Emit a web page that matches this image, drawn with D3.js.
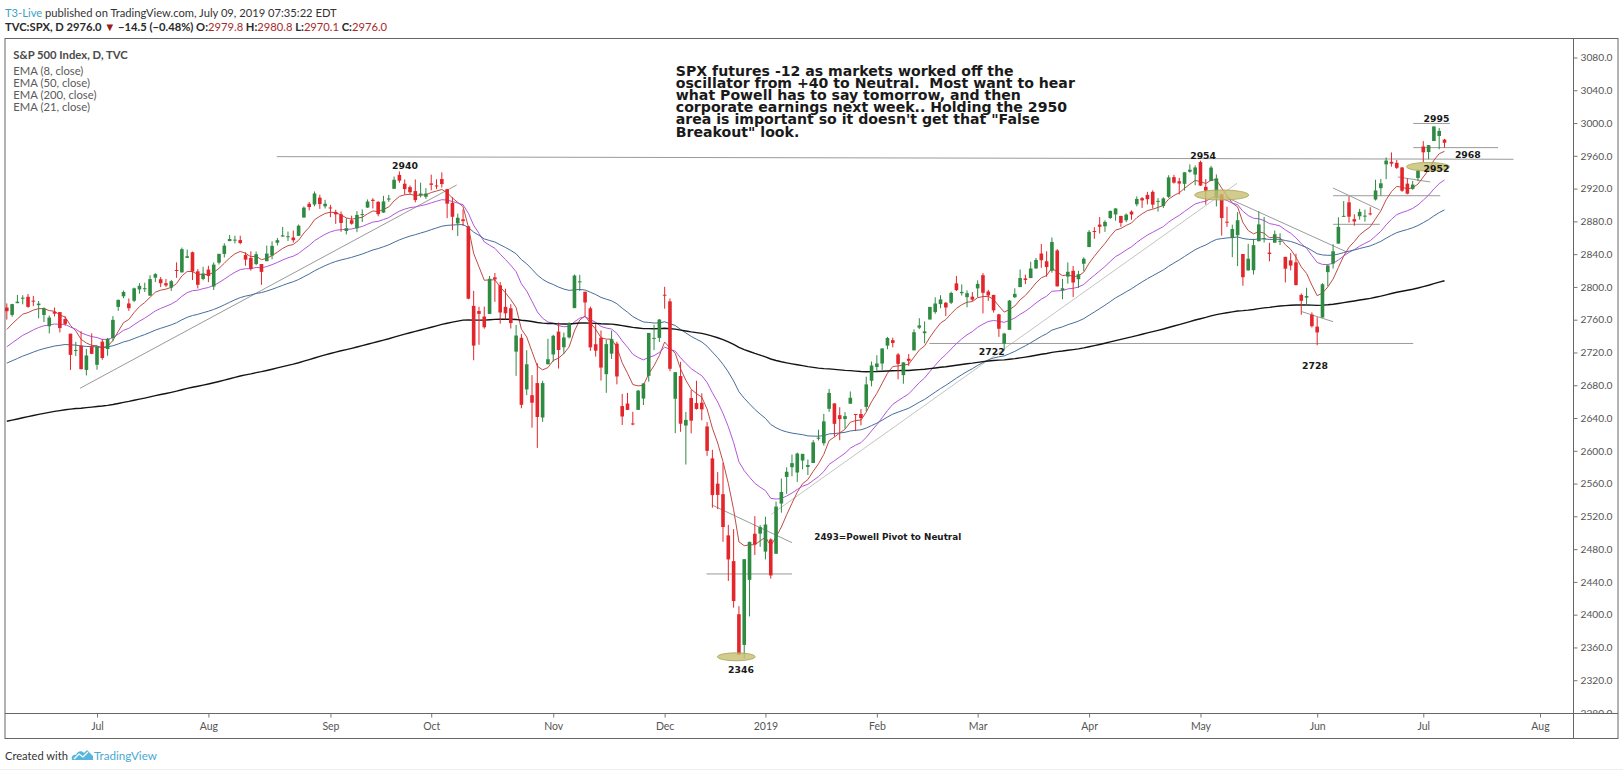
<!DOCTYPE html>
<html>
<head>
<meta charset="utf-8">
<script src="https://cdn.jsdelivr.net/npm/d3@7"></script>
<style>
  html, body { margin: 0; padding: 0; background: #fff; }
  svg { display: block; }
  text { font-family: Lato, "Noto Sans", sans-serif; white-space: pre; }
  .note { font-family: "DejaVu Sans", Verdana, sans-serif; font-weight: bold; fill: #1a1a1a; }
  .axis text { fill: #555; font-family: Lato, sans-serif; }
  .axis line { stroke: #777; }
</style>
</head>
<body>
<svg id="chart" width="1623" height="771"></svg>
<script>
// ---- daily bars, S&P 500 (TVC:SPX) ----
const dates = [
  "2018-06-07","2018-06-08","2018-06-11","2018-06-12","2018-06-13","2018-06-14","2018-06-15","2018-06-18","2018-06-19","2018-06-20","2018-06-21","2018-06-22","2018-06-25","2018-06-26","2018-06-27","2018-06-28","2018-06-29",
  "2018-07-02","2018-07-03","2018-07-05","2018-07-06","2018-07-09","2018-07-10","2018-07-11","2018-07-12","2018-07-13","2018-07-16","2018-07-17","2018-07-18","2018-07-19","2018-07-20","2018-07-23","2018-07-24","2018-07-25","2018-07-26","2018-07-27","2018-07-30","2018-07-31",
  "2018-08-01","2018-08-02","2018-08-03","2018-08-06","2018-08-07","2018-08-08","2018-08-09","2018-08-10","2018-08-13","2018-08-14","2018-08-15","2018-08-16","2018-08-17","2018-08-20","2018-08-21","2018-08-22","2018-08-23","2018-08-24","2018-08-27","2018-08-28","2018-08-29","2018-08-30","2018-08-31",
  "2018-09-04","2018-09-05","2018-09-06","2018-09-07","2018-09-10","2018-09-11","2018-09-12","2018-09-13","2018-09-14","2018-09-17","2018-09-18","2018-09-19","2018-09-20","2018-09-21","2018-09-24","2018-09-25","2018-09-26","2018-09-27","2018-09-28",
  "2018-10-01","2018-10-02","2018-10-03","2018-10-04","2018-10-05","2018-10-08","2018-10-09","2018-10-10","2018-10-11","2018-10-12","2018-10-15","2018-10-16","2018-10-17","2018-10-18","2018-10-19","2018-10-22","2018-10-23","2018-10-24","2018-10-25","2018-10-26","2018-10-29","2018-10-30","2018-10-31",
  "2018-11-01","2018-11-02","2018-11-05","2018-11-06","2018-11-07","2018-11-08","2018-11-09","2018-11-12","2018-11-13","2018-11-14","2018-11-15","2018-11-16","2018-11-19","2018-11-20","2018-11-21","2018-11-23","2018-11-26","2018-11-27","2018-11-28","2018-11-29","2018-11-30",
  "2018-12-03","2018-12-04","2018-12-06","2018-12-07","2018-12-10","2018-12-11","2018-12-12","2018-12-13","2018-12-14","2018-12-17","2018-12-18","2018-12-19","2018-12-20","2018-12-21","2018-12-24","2018-12-26","2018-12-27","2018-12-28","2018-12-31",
  "2019-01-02","2019-01-03","2019-01-04","2019-01-07","2019-01-08","2019-01-09","2019-01-10","2019-01-11","2019-01-14","2019-01-15","2019-01-16","2019-01-17","2019-01-18","2019-01-22","2019-01-23","2019-01-24","2019-01-25","2019-01-28","2019-01-29","2019-01-30","2019-01-31",
  "2019-02-01","2019-02-04","2019-02-05","2019-02-06","2019-02-07","2019-02-08","2019-02-11","2019-02-12","2019-02-13","2019-02-14","2019-02-15","2019-02-19","2019-02-20","2019-02-21","2019-02-22","2019-02-25","2019-02-26","2019-02-27","2019-02-28",
  "2019-03-01","2019-03-04","2019-03-05","2019-03-06","2019-03-07","2019-03-08","2019-03-11","2019-03-12","2019-03-13","2019-03-14","2019-03-15","2019-03-18","2019-03-19","2019-03-20","2019-03-21","2019-03-22","2019-03-25","2019-03-26","2019-03-27","2019-03-28","2019-03-29",
  "2019-04-01","2019-04-02","2019-04-03","2019-04-04","2019-04-05","2019-04-08","2019-04-09","2019-04-10","2019-04-11","2019-04-12","2019-04-15","2019-04-16","2019-04-17","2019-04-18","2019-04-22","2019-04-23","2019-04-24","2019-04-25","2019-04-26","2019-04-29","2019-04-30",
  "2019-05-01","2019-05-02","2019-05-03","2019-05-06","2019-05-07","2019-05-08","2019-05-09","2019-05-10","2019-05-13","2019-05-14","2019-05-15","2019-05-16","2019-05-17","2019-05-20","2019-05-21","2019-05-22","2019-05-23","2019-05-24","2019-05-28","2019-05-29","2019-05-30","2019-05-31",
  "2019-06-03","2019-06-04","2019-06-05","2019-06-06","2019-06-07","2019-06-10","2019-06-11","2019-06-12","2019-06-13","2019-06-14","2019-06-17","2019-06-18","2019-06-19","2019-06-20","2019-06-21","2019-06-24","2019-06-25","2019-06-26","2019-06-27","2019-06-28",
  "2019-07-01","2019-07-02","2019-07-03","2019-07-05","2019-07-08"
];

const opens = [
  2774.84,2765.84,2780.18,2785.60,2787.94,2783.21,2777.78,2765.79,2752.01,2769.73,2769.28,2760.79,2742.94,2722.12,2728.45,2698.69,2727.13,
  2704.95,2733.27,2724.19,2737.68,2775.62,2788.56,2779.82,2783.14,2796.93,2797.36,2789.34,2811.35,2809.37,2804.55,2799.17,2820.68,2817.73,2835.49,2842.35,2819.00,2809.73,
  2821.17,2800.48,2829.62,2840.29,2855.92,2856.79,2857.19,2838.90,2835.46,2827.88,2827.95,2831.44,2838.32,2853.93,2861.51,2860.99,2860.29,2862.35,2884.69,2901.45,2900.62,2908.94,2898.37,
  2896.96,2891.59,2888.64,2868.26,2881.39,2871.57,2888.29,2896.85,2906.38,2903.83,2890.74,2906.60,2919.73,2936.76,2925.94,2921.83,2916.98,2911.65,2910.03,
  2926.29,2923.80,2931.69,2919.35,2902.54,2877.53,2882.51,2873.90,2776.87,2770.54,2763.83,2767.05,2811.67,2802.00,2775.66,2773.94,2721.03,2737.87,2674.88,2667.86,2682.65,2640.68,2705.60,
  2717.58,2745.45,2726.37,2738.40,2774.13,2806.38,2794.10,2773.93,2730.05,2737.90,2693.52,2718.54,2730.74,2654.60,2657.74,2633.36,2649.97,2663.75,2691.45,2736.97,2737.76,
  2790.50,2782.43,2663.51,2691.26,2630.86,2664.44,2658.23,2658.70,2629.68,2590.75,2559.90,2547.05,2496.77,2465.38,2400.56,2363.12,2442.50,2498.77,2498.94,
  2476.96,2491.92,2474.33,2535.61,2568.11,2580.00,2573.51,2588.11,2580.31,2585.10,2614.75,2609.28,2651.27,2657.88,2643.48,2638.84,2657.44,2644.97,2644.89,2653.62,2685.49,
  2702.32,2706.49,2728.34,2735.05,2717.53,2692.36,2712.40,2722.61,2750.30,2743.50,2760.24,2769.28,2779.05,2780.67,2780.67,2804.35,2792.36,2787.50,2788.11,
  2798.22,2814.37,2794.41,2790.27,2766.53,2730.79,2747.61,2787.34,2799.78,2810.38,2810.79,2822.61,2840.76,2831.34,2819.72,2844.52,2796.01,2812.66,2819.72,2809.40,2828.27,
  2848.63,2868.24,2876.09,2873.99,2884.16,2888.46,2886.58,2881.37,2891.92,2900.86,2908.32,2912.26,2916.04,2904.81,2898.78,2909.99,2934.00,2928.99,2925.81,2940.58,2937.14,
  2952.33,2922.16,2929.21,2908.89,2913.03,2879.61,2859.84,2863.10,2840.19,2820.12,2820.38,2855.80,2858.60,2841.94,2854.02,2856.06,2836.70,2832.41,2830.03,2790.25,2786.94,2766.15,
  2751.53,2762.64,2818.09,2828.51,2852.87,2885.83,2903.27,2882.73,2886.24,2886.82,2889.75,2906.71,2920.55,2949.60,2952.71,2951.42,2945.78,2926.07,2919.66,2932.94,
  2971.41,2964.66,2978.08,2984.25,2979.77
];

const highs = [
  2779.90,2779.39,2790.21,2789.80,2791.47,2789.06,2782.81,2774.99,2765.05,2774.86,2769.28,2764.17,2742.94,2732.91,2746.09,2724.34,2743.26,
  2727.26,2736.58,2737.83,2764.41,2784.65,2795.58,2785.91,2799.22,2804.53,2805.12,2814.19,2816.76,2812.05,2809.70,2808.61,2829.99,2848.03,2845.57,2843.17,2821.74,2824.46,
  2825.83,2829.91,2840.38,2853.29,2863.43,2862.44,2862.48,2842.20,2843.40,2843.11,2827.95,2850.49,2855.63,2859.76,2873.23,2867.54,2868.78,2876.16,2898.25,2903.77,2916.50,2912.46,2906.32,
  2900.18,2894.21,2892.05,2883.81,2886.93,2892.52,2894.65,2906.76,2908.30,2904.65,2911.17,2912.36,2934.80,2940.91,2931.15,2923.79,2931.15,2927.22,2920.53,
  2937.06,2931.42,2939.86,2919.78,2909.64,2889.45,2894.83,2874.02,2795.14,2775.77,2775.99,2813.46,2816.94,2806.04,2797.77,2778.94,2753.59,2742.59,2722.70,2692.38,2706.85,2685.43,2736.69,
  2741.67,2756.55,2744.27,2756.82,2815.15,2814.75,2794.10,2775.99,2754.60,2746.80,2735.38,2746.75,2733.16,2669.44,2670.73,2647.55,2674.35,2682.53,2744.00,2753.75,2760.88,
  2800.18,2785.93,2696.15,2708.54,2647.51,2674.35,2685.44,2670.19,2635.07,2601.13,2573.99,2585.29,2509.63,2504.41,2410.34,2467.76,2489.10,2520.27,2509.24,
  2519.49,2493.14,2538.07,2566.16,2579.82,2595.32,2597.82,2596.27,2589.32,2613.08,2625.76,2645.06,2675.47,2657.88,2653.19,2647.20,2672.38,2644.97,2650.93,2690.44,2708.95,
  2716.66,2724.99,2738.98,2738.08,2719.32,2708.07,2718.05,2748.19,2761.85,2757.90,2775.66,2787.33,2789.88,2781.58,2794.20,2813.49,2803.12,2795.76,2793.73,
  2808.02,2816.88,2796.44,2790.27,2767.25,2744.13,2784.00,2798.32,2821.24,2815.00,2830.73,2835.41,2852.42,2843.54,2860.31,2846.16,2809.79,2829.87,2825.56,2819.71,2836.03,
  2869.40,2872.90,2885.25,2881.28,2893.24,2895.95,2886.88,2889.71,2893.42,2910.54,2909.60,2916.06,2918.00,2908.40,2909.51,2936.31,2936.83,2933.10,2939.88,2949.52,2948.22,
  2954.13,2931.68,2947.85,2937.32,2913.03,2897.96,2875.97,2891.31,2840.19,2852.54,2858.68,2892.15,2885.48,2853.86,2868.88,2865.47,2836.70,2841.36,2840.51,2792.03,2799.00,2768.98,
  2763.07,2804.49,2827.28,2852.10,2884.97,2904.77,2910.61,2888.57,2895.24,2894.45,2897.27,2930.79,2931.74,2958.06,2964.15,2954.92,2946.52,2932.59,2929.30,2943.98,
  2977.93,2973.21,2995.84,2994.03,2980.76
];

const lows = [
  2760.16,2763.59,2780.17,2778.78,2774.65,2776.52,2761.73,2757.12,2743.19,2763.91,2744.39,2752.68,2698.67,2715.60,2699.38,2691.99,2718.03,
  2698.95,2711.16,2716.02,2733.52,2770.73,2786.24,2770.77,2781.53,2791.69,2793.82,2789.24,2805.89,2799.77,2800.01,2795.14,2811.12,2817.73,2835.26,2808.34,2798.11,2808.06,
  2805.85,2796.34,2827.37,2835.98,2855.92,2853.09,2851.98,2825.81,2819.88,2826.58,2802.49,2831.44,2833.73,2850.62,2861.32,2856.05,2854.03,2862.35,2884.69,2893.50,2898.40,2895.22,2895.77,
  2885.13,2876.92,2867.29,2864.12,2875.94,2866.78,2879.20,2896.39,2895.77,2886.16,2890.43,2903.82,2919.73,2927.11,2912.59,2913.48,2903.28,2909.27,2907.50,
  2917.91,2919.37,2921.36,2883.92,2869.29,2862.08,2874.27,2784.86,2710.51,2729.44,2749.03,2766.91,2781.81,2755.18,2760.27,2749.22,2691.43,2651.89,2667.84,2628.16,2603.54,2635.34,2705.60,
  2708.85,2700.44,2717.94,2737.08,2774.13,2794.99,2764.24,2722.00,2714.98,2685.75,2670.75,2712.16,2681.09,2631.52,2649.82,2631.09,2649.97,2655.89,2684.38,2722.94,2732.76,
  2773.38,2697.18,2621.53,2623.14,2583.23,2621.30,2650.26,2637.27,2593.84,2530.54,2528.71,2488.96,2441.18,2408.55,2351.10,2346.58,2397.94,2472.89,2482.82,
  2467.47,2443.96,2474.33,2524.56,2547.56,2568.89,2562.02,2577.40,2570.41,2585.10,2612.68,2606.36,2647.58,2617.27,2612.86,2627.01,2657.33,2624.06,2631.05,2648.34,2678.65,
  2696.88,2698.75,2724.03,2726.27,2687.26,2681.83,2703.79,2722.61,2748.63,2731.23,2760.24,2767.29,2774.06,2764.55,2779.11,2794.99,2789.47,2775.13,2782.51,
  2787.38,2767.66,2782.97,2768.69,2739.09,2722.27,2747.61,2786.73,2799.78,2803.46,2810.79,2821.99,2823.27,2812.43,2817.38,2800.47,2785.02,2803.99,2787.72,2798.77,2819.23,
  2848.63,2858.75,2865.17,2867.14,2882.99,2880.78,2873.33,2879.13,2881.99,2898.37,2896.48,2900.71,2895.45,2891.90,2896.35,2908.53,2926.05,2912.84,2917.56,2939.35,2924.11,
  2923.36,2900.50,2929.21,2898.21,2862.60,2873.28,2836.40,2825.39,2801.43,2820.12,2815.08,2855.80,2854.23,2831.29,2854.02,2851.11,2805.49,2820.19,2801.58,2766.06,2776.74,2750.52,
  2728.81,2762.64,2800.92,2822.45,2852.87,2885.51,2878.53,2874.68,2881.99,2879.62,2887.30,2905.44,2911.43,2931.50,2946.87,2944.05,2916.01,2912.99,2918.57,2929.05,
  2952.22,2955.92,2977.96,2967.97,2970.09
];

const closes = [
  2770.37,2779.03,2782.00,2786.85,2775.63,2782.49,2779.66,2773.75,2762.59,2767.32,2749.76,2754.88,2717.07,2723.06,2699.63,2716.31,2718.37,
  2726.71,2713.22,2736.61,2759.82,2784.17,2793.84,2774.02,2798.29,2801.31,2798.43,2809.55,2815.62,2804.49,2801.83,2806.98,2820.40,2846.07,2837.44,2818.82,2802.60,2816.29,
  2813.36,2827.22,2840.35,2850.40,2858.45,2857.70,2853.58,2833.28,2821.93,2839.96,2818.37,2840.69,2850.13,2857.05,2862.96,2861.82,2856.98,2874.69,2896.74,2897.52,2914.04,2901.13,2901.52,
  2896.72,2888.60,2878.05,2871.68,2877.13,2887.89,2888.92,2904.18,2904.98,2888.80,2904.31,2907.95,2930.75,2929.67,2919.37,2915.56,2905.97,2914.00,2913.98,
  2924.59,2923.43,2925.51,2901.61,2885.57,2884.43,2880.34,2785.68,2728.37,2767.13,2750.79,2809.92,2809.21,2768.78,2767.78,2755.88,2740.69,2656.10,2705.57,2658.69,2641.25,2682.63,2711.74,
  2740.37,2723.06,2738.31,2755.45,2813.89,2806.83,2781.01,2726.22,2722.18,2701.58,2730.20,2736.27,2690.73,2641.89,2649.93,2632.56,2673.45,2682.17,2743.79,2737.80,2760.17,
  2790.37,2700.06,2695.95,2633.08,2637.72,2636.78,2651.07,2650.54,2599.95,2545.94,2546.16,2506.96,2467.42,2416.62,2351.10,2467.70,2488.83,2485.74,2506.85,
  2510.03,2447.89,2531.94,2549.69,2574.41,2584.96,2596.64,2596.26,2582.61,2610.30,2616.10,2635.96,2670.71,2632.90,2638.70,2642.33,2664.76,2643.85,2640.00,2681.05,2704.10,
  2706.53,2724.87,2737.70,2731.61,2706.05,2707.88,2709.80,2744.73,2753.03,2745.73,2775.60,2779.76,2784.70,2774.88,2792.67,2796.11,2793.90,2792.38,2784.49,
  2803.69,2792.81,2789.65,2771.45,2748.93,2743.07,2783.30,2791.52,2810.92,2808.48,2822.48,2832.94,2832.57,2824.23,2854.88,2800.71,2798.36,2818.46,2805.37,2815.44,2834.40,
  2867.19,2867.24,2873.40,2879.39,2892.74,2895.77,2878.20,2888.21,2888.32,2907.41,2905.58,2907.06,2900.45,2905.03,2907.97,2933.68,2927.25,2926.17,2939.88,2943.03,2945.83,
  2923.73,2917.52,2945.64,2932.47,2884.05,2879.42,2870.72,2881.40,2811.87,2834.41,2850.96,2876.32,2859.53,2840.23,2864.36,2856.27,2822.24,2826.06,2802.39,2783.02,2788.86,2752.06,
  2744.45,2803.27,2826.15,2843.49,2873.34,2886.73,2885.72,2879.84,2891.64,2886.98,2889.67,2917.75,2926.46,2954.18,2950.46,2945.35,2917.38,2913.78,2924.92,2941.76,
  2964.33,2973.01,2995.82,2990.41,2975.95
];

// EMA periods and their values on the first visible bar
const emaPeriods = [8, 21, 50, 200];
const emaStart = [2748, 2727, 2707, 2636];
const emaColors = ["#bf4b43", "#b256db", "#456d9b", "#141414"];
const emaWidths = [1, 1, 1, 1.4];

// axes
const priceTicks = d3.range(2280, 3081, 40);
const monthTickDates = ["2018-07-02","2018-08-01","2018-09-04","2018-10-01","2018-11-01","2018-12-03","2019-01-02",
  "2019-02-01","2019-03-01","2019-04-01","2019-05-01","2019-06-03","2019-07-01","2019-08-01"];
const monthTickLabels = ["Jul","Aug","Sep","Oct","Nov","Dec","2019","Feb","Mar","Apr","May","Jun","Jul","Aug"];

// hand-drawn annotations: [bar, price, bar, price]
const drawnLines = [
  [13.8, 2676.3, 84.8, 2924.4],
  [50.9, 2959.0, 284.0, 2955.8],
  [131.9, 2449.7, 148.0, 2449.7],
  [132.9, 2533.9, 148.0, 2487.9],
  [229.6, 2910.1, 252.6, 2842.6],
  [250.0, 2920.7, 258.8, 2893.9],
  [250.0, 2911.3, 270.2, 2911.3],
  [250.0, 2876.4, 258.8, 2876.4],
  [262.2, 2934.2, 268.3, 2928.1],
  [265.1, 2999.5, 272.0, 2999.5],
  [265.1, 2970.0, 281.1, 2970.0],
  [244.1, 2769.8, 250.0, 2757.6],
  [173.9, 2731.0, 265.1, 2731.0]
];
const faintLines = [
  [144.1, 2522.4, 231.9, 2926.5]
];
// [bar, price, rx, ry]
const markEllipses = [
  [137.5, 2348.6, 19, 4],
  [229.0, 2912.2, 27, 5],
  [267.9, 2946.7, 21.5, 4.3]
];
const levelLabels = [
  ["2940", 75.06, 2948.8],
  ["2954", 225.5, 2959.8],
  ["2995", 269.5, 3005.8],
  ["2968", 275.4, 2961.9],
  ["2952", 269.5, 2944.8],
  ["2722", 185.65, 2720.9],
  ["2728", 246.6, 2704.7],
  ["2346", 138.4, 2333.4]
];
const pivotNote = ["2493=Powell Pivot to Neutral", 152.2, 2495.2];
const noteLines = [
  "SPX futures -12 as markets worked off the",
  "oscillator from +40 to Neutral.  Most want to hear",
  "what Powell has to say tomorrow, and then",
  "corporate earnings next week.. Holding the 2950",
  "area is important so it doesn't get that \"False",
  "Breakout\" look."
];
const notePos = [126.1, 3057.8];

const legendLabels = ["S&P 500 Index, D, TVC", "EMA (8, close)", "EMA (50, close)", "EMA (200, close)", "EMA (21, close)"];

const RED = "#e3262c", GREEN = "#2f8a42";

// ---- layout ----
const svg = d3.select("#chart");
const frame = { left: 5, top: 38.5, right: 1618, bottom: 738.5 };
const plotRight = 1573, plotBottom = 713;

const x = d3.scaleLinear().domain([17, 289]).range([97, 1540]);
const y = d3.scaleLinear().domain([2280, 3080]).range([713, 57.5]);

function barIndex(s) {
  const i = dates.indexOf(s);
  if (i >= 0) return i;
  const parse = d3.utcParse("%Y-%m-%d");
  const last = parse(dates[dates.length - 1]);
  const target = parse(s);
  const extra = d3.utcDays(d3.utcDay.offset(last, 1), d3.utcDay.offset(target, 1))
    .filter(d => d.getUTCDay() % 6 !== 0).length;
  return dates.length - 1 + extra;
}

function ema(values, n, seed) {
  const k = 2 / (n + 1);
  let e = seed;
  return values.map((v, i) => (e = i === 0 ? seed : e + k * (v - e)));
}

function fit(sel, target) {
  const w = sel.node().getComputedTextLength();
  const fs = parseFloat(sel.attr("font-size"));
  sel.attr("font-size", (fs * target / w).toFixed(2));
}

const defs = svg.append("defs");
defs.append("clipPath").attr("id", "plotClip")
  .append("rect").attr("x", frame.left).attr("y", frame.top)
  .attr("width", plotRight - frame.left).attr("height", plotBottom - frame.top);
defs.append("clipPath").attr("id", "axisClip")
  .append("rect").attr("x", plotRight).attr("y", frame.top)
  .attr("width", frame.right - plotRight).attr("height", plotBottom - frame.top);

// header
const h1 = svg.append("text").attr("x", 5).attr("y", 11.7).attr("dominant-baseline", "central")
  .attr("font-size", 12);
h1.append("tspan").attr("fill", "#3d9fc6").text("T3-Live");
h1.append("tspan").attr("fill", "#333").text(" published on TradingView.com, July 09, 2019 07:35:22 EDT");
fit(h1, 332);

const h2 = svg.append("text").attr("x", 5).attr("y", 25.7).attr("dominant-baseline", "central")
  .attr("font-size", 12).attr("fill", "#2a2a2a");
const headerParts = [
  ["TVC:SPX, D 2976.0 ", "#2a2a2a"], ["\u25BC", "#9b1b1b"], [" \u221214.5 (\u22120.48%) O:", "#2a2a2a"],
  ["2979.8", "#a52a2a"], [" H:", "#2a2a2a"], ["2980.8", "#a52a2a"], [" L:", "#2a2a2a"],
  ["2970.1", "#a52a2a"], [" C:", "#2a2a2a"], ["2976.0", "#a52a2a"]
];
headerParts.forEach(([t, c]) => h2.append("tspan").attr("fill", c).attr("font-weight", c === "#2a2a2a" ? 700 : 400).text(t));
fit(h2, 382);

// frame
svg.append("rect").attr("x", frame.left).attr("y", frame.top)
  .attr("width", frame.right - frame.left).attr("height", frame.bottom - frame.top)
  .attr("fill", "none").attr("stroke", "#666").attr("stroke-width", 1);
svg.append("line").attr("x1", plotRight + 0.5).attr("x2", plotRight + 0.5)
  .attr("y1", frame.top).attr("y2", frame.bottom).attr("stroke", "#666");
svg.append("line").attr("x1", frame.left).attr("x2", frame.right)
  .attr("y1", plotBottom + 0.5).attr("y2", plotBottom + 0.5).attr("stroke", "#666");

// price axis (clipped so the lowest label is cut by the time-axis line)
const yAxis = svg.append("g").attr("clip-path", "url(#axisClip)")
  .append("g").attr("class", "axis")
  .attr("transform", `translate(${plotRight + 0.5},0)`)
  .call(d3.axisRight(y).tickValues(priceTicks).tickFormat(d3.format(".1f")).tickSize(4).tickPadding(3));
yAxis.select(".domain").remove();
yAxis.selectAll("text").attr("font-size", 10.2);

// time axis
const xAxis = svg.append("g").attr("class", "axis")
  .attr("transform", `translate(0,${plotBottom + 0.5})`)
  .call(d3.axisBottom(x).tickValues(monthTickDates.map(barIndex))
    .tickFormat((d, i) => monthTickLabels[i]).tickSize(4).tickPadding(5));
xAxis.select(".domain").remove();
xAxis.selectAll("text").attr("font-size", 10.5);

// plot
const plot = svg.append("g").attr("clip-path", "url(#plotClip)");
const bars = d3.range(dates.length);

plot.append("g").selectAll("line").data(faintLines).join("line")
  .attr("x1", d => x(d[0])).attr("y1", d => y(d[1])).attr("x2", d => x(d[2])).attr("y2", d => y(d[3]))
  .attr("stroke", "#c4c4c4").attr("stroke-width", 1);
plot.append("g").selectAll("line").data(drawnLines).join("line")
  .attr("x1", d => x(d[0])).attr("y1", d => y(d[1])).attr("x2", d => x(d[2])).attr("y2", d => y(d[3]))
  .attr("stroke", "#9a9a9a").attr("stroke-width", 1);

emaPeriods.forEach((n, k) => {
  const vals = ema(closes, n, emaStart[k]);
  plot.append("path").datum(vals)
    .attr("fill", "none").attr("stroke", emaColors[k]).attr("stroke-width", emaWidths[k])
    .attr("d", d3.line().x((v, i) => x(i)).y(v => y(v)));
});

const bodyW = 3.6;
const up = i => closes[i] >= opens[i];
const candles = plot.append("g");
candles.selectAll("line").data(bars).join("line")
  .attr("x1", i => x(i)).attr("x2", i => x(i))
  .attr("y1", i => y(highs[i])).attr("y2", i => y(lows[i]))
  .attr("stroke", i => up(i) ? GREEN : RED).attr("stroke-width", 1);
candles.selectAll("rect").data(bars).join("rect")
  .attr("x", i => x(i) - bodyW / 2)
  .attr("y", i => y(Math.max(opens[i], closes[i])))
  .attr("width", bodyW)
  .attr("height", i => Math.max(1, Math.abs(y(opens[i]) - y(closes[i]))))
  .attr("fill", i => up(i) ? GREEN : RED);

plot.append("g").selectAll("ellipse").data(markEllipses).join("ellipse")
  .attr("cx", d => x(d[0])).attr("cy", d => y(d[1])).attr("rx", d => d[2]).attr("ry", d => d[3])
  .attr("fill", "#c5bf72").attr("fill-opacity", 0.8).attr("stroke", "#a9a257").attr("stroke-width", 0.8);

// labels
plot.append("g").selectAll("text").data(levelLabels).join("text")
  .attr("class", "note").attr("x", d => x(d[1])).attr("y", d => y(d[2]))
  .attr("text-anchor", "middle").attr("dominant-baseline", "central")
  .attr("font-size", 9.3).attr("fill", "#222").text(d => d[0]);

const pivot = plot.append("text").attr("class", "note")
  .attr("x", x(pivotNote[1])).attr("y", y(pivotNote[2])).attr("dominant-baseline", "central")
  .attr("font-size", 9).attr("fill", "#333").text(pivotNote[0]);
fit(pivot, 147);

// comment block: one text element, one tspan per line
const note = plot.append("text").attr("class", "note")
  .attr("x", x(notePos[0])).attr("y", y(notePos[1])).attr("font-size", 13);
note.selectAll("tspan").data(noteLines).join("tspan")
  .attr("x", x(notePos[0])).attr("dy", (d, i) => i === 0 ? 0 : 12.2).text(d => d);
const longest = note.selectAll("tspan").filter((d, i) => i === 1).node().getComputedTextLength();
note.attr("font-size", (13 * 399 / longest).toFixed(2));

// legend
const legend = svg.append("g");
const legTexts = legend.selectAll("text").data(legendLabels).join("text")
  .attr("x", 13.3).attr("y", (d, i) => i === 0 ? 54 : 70.3 + (i - 1) * 12.1)
  .attr("dominant-baseline", "central").attr("font-size", 12)
  .attr("font-weight", (d, i) => i === 0 ? 700 : 400)
  .attr("fill", (d, i) => i === 0 ? "#4a4a4a" : "#5a5a5a").text(d => d);
const lw = legTexts.filter((d, i) => i === 0).node().getComputedTextLength();
legTexts.attr("font-size", (12 * 114.4 / lw).toFixed(2));

// footer
const created = svg.append("text").attr("x", 5).attr("y", 755).attr("dominant-baseline", "central")
  .attr("font-size", 12).attr("fill", "#333").text("Created with");
fit(created, 63);
svg.append("path")
  .attr("d", "M72,760 C71,757 73,754 76,755 C77,751 82,750 84,753 L87,750 L93,756 L93,760 Z")
  .attr("fill", "#56b6dc");
svg.append("path").attr("d", "M74,759 L79,754 L83,757 L88,752")
  .attr("fill", "none").attr("stroke", "#fff").attr("stroke-width", 1.3);
const tv = svg.append("text").attr("x", 94).attr("y", 755).attr("dominant-baseline", "central")
  .attr("font-size", 12).attr("fill", "#4aa9d3").text("TradingView");
fit(tv, 63);
svg.append("line").attr("x1", 0).attr("x2", 1623).attr("y1", 769.5).attr("y2", 769.5)
  .attr("stroke", "#eee");
</script>
</body>
</html>
